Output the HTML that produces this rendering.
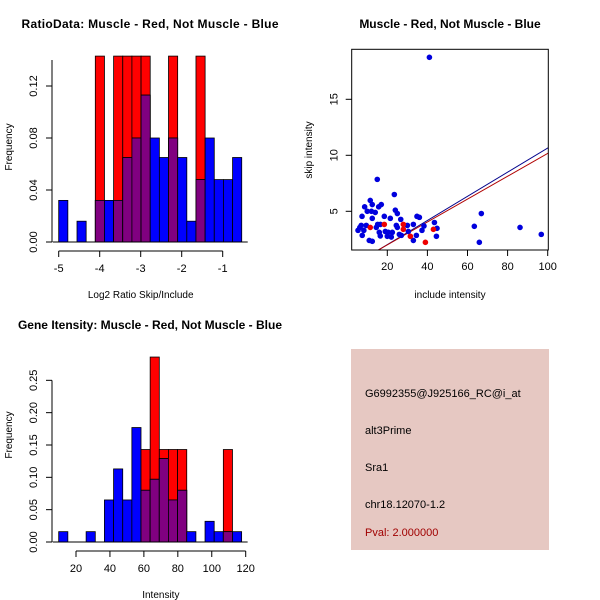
<!DOCTYPE html>
<html><head><meta charset="utf-8"><style>
body{margin:0;background:#fff}
svg{display:block;font-family:"Liberation Sans",sans-serif}
</style></head><body>
<svg id="s" width="600" height="600" viewBox="0 0 600 600">
<rect width="600" height="600" fill="#fff"/>
<text x="150" y="28" text-anchor="middle" font-size="12" font-weight="bold" textLength="257">RatioData: Muscle - Red, Not Muscle - Blue</text>
<text x="450" y="28" text-anchor="middle" font-size="12" font-weight="bold">Muscle - Red, Not Muscle - Blue</text>
<text x="150" y="329" text-anchor="middle" font-size="12" font-weight="bold">Gene Itensity: Muscle - Red, Not Muscle - Blue</text>
<g id="g1"></g>
<g id="g2"></g>
<g id="g3"></g>
<g>
<rect x="351" y="349" width="198" height="201" fill="#e6c8c2"/>
<g font-size="11">
<text x="365" y="397">G6992355@J925166_RC@i_at</text>
<text x="365" y="434">alt3Prime</text>
<text x="365" y="471">Sra1</text>
<text x="365" y="508">chr18.12070-1.2</text>
<text x="365" y="536" fill="#a00000">Pval: 2.000000</text>
</g></g>
</svg>
<script>
// Ratio histogram data
const ratioBinStart = -5, ratioBinWidth = 0.2232;
const ratioBlue = [0.032,0,0.016,0,0.032,0.032,0.032,0.065,0.08,0.113,0.08,0.065,0.08,0.065,0.016,0.048,0.08,0.048,0.048,0.065];
const ratioRed  = [0,0,0,0,0.143,0,0.143,0.143,0.143,0.143,0,0,0.143,0,0,0.143,0,0,0,0];
const ratioXTicks = [-5,-4,-3,-2,-1];
const ratioYTicks = ["0.00","0.04","0.08","0.12"];
// Intensity histogram data
const intBinStart = 9.8, intBinWidth = 5.39;
const intBlue = [0.016,0,0,0.016,0,0.065,0.113,0.065,0.177,0.08,0.097,0.129,0.065,0.08,0.016,0,0.032,0.016,0.016,0.016];
const intRed  = [0,0,0,0,0,0,0,0,0,0.143,0.286,0.143,0.143,0.143,0,0,0,0,0.143,0];
const intXTicks = [20,40,60,80,100,120];
const intYTicks = ["0.00","0.05","0.10","0.15","0.20","0.25"];
// Scatter data
const blueX = [41,15,23.5,11.5,12.5,17,8.7,15.7,10,12.1,14,24,25,7.4,18.5,12.5,21.5,26.7,34.8,36,43.5,66.9,15.2,16.5,7,9.5,24.5,30,33,38.3,6.3,14.5,25,44.8,63.4,86.2,5.4,8.3,37.3,16,19,20.5,22.5,30.5,7.5,16.5,20,22,26,27,34.5,44.5,96.8,11,12.5,33,65.9];
const blueY = [18.75,7.85,6.5,5.97,5.6,5.6,5.4,5.4,5,5,4.9,5.1,4.8,4.55,4.55,4.37,4.37,4.28,4.55,4.46,4,4.8,3.83,3.83,3.74,3.74,3.74,3.74,3.83,3.69,3.56,3.56,3.56,3.48,3.66,3.56,3.3,3.3,3.3,3.12,3.2,3.12,3.12,3.2,2.85,2.8,2.77,2.7,2.94,2.85,2.85,2.77,2.94,2.4,2.32,2.4,2.23];
const redX = [11.5,18.5,28,28,31.5,39,43];
const redY = [3.56,3.83,3.83,3.39,2.77,2.23,3.39];
const blueFit = [-0.131,0.1078]; // intercept, slope
const redFit = [-0.04,0.1021];
const scXTicks = [20,40,60,80,100];
const scYTicks = [5,10,15];

const NS="http://www.w3.org/2000/svg";
function mk(p,tag,a){const e=document.createElementNS(NS,tag);for(const k in a)e.setAttribute(k,a[k]);p.appendChild(e);return e;}

function hist(g,o){
  const X=v=>o.x0+(v-o.xv0)*o.xs, Y=v=>o.y0-v*o.ys;
  for(let i=0;i<o.blue.length;i++){
    const a=o.start+i*o.w,b=a+o.w,bv=o.blue[i],rv=o.red[i];
    if(rv>0){const r=mk(g,'rect',{x:X(a),y:Y(rv),width:X(b)-X(a),height:Y(0)-Y(rv),fill:'#ff0000',stroke:'#000','stroke-width':0.8});
      
      }
    if(bv>0){const r=mk(g,'rect',{x:X(a),y:Y(bv),width:X(b)-X(a),height:Y(0)-Y(bv),fill:'#0000ff',stroke:'#000','stroke-width':0.8});
      
      }
    const m=Math.min(bv,rv);
    if(m>0){const r=mk(g,'rect',{x:X(a),y:Y(m),width:X(b)-X(a),height:Y(0)-Y(m),fill:'#800080',stroke:'#000','stroke-width':0.8});
      
      }
  }
  mk(g,'line',{x1:X(o.start)-6,x2:X(o.start+o.blue.length*o.w)+6,y1:Y(0),y2:Y(0),stroke:'#000'});
  const xa=o.y0+9;
  mk(g,'line',{x1:X(o.xt[0]),x2:X(o.xt[o.xt.length-1]),y1:xa,y2:xa,stroke:'#000'});
  o.xt.forEach(t=>{mk(g,'line',{x1:X(t),x2:X(t),y1:xa,y2:xa+6,stroke:'#000'});
    const tx=mk(g,'text',{x:X(t),y:xa+21,'text-anchor':'middle','font-size':11});tx.textContent=t;
    
    });
  const ya=52;
  mk(g,'line',{x1:ya,x2:ya,y1:Y(0),y2:Y(o.ytop),stroke:'#000'});
  const step=parseFloat(o.yt[1]);
  for(let v=0;v<=o.ytop+1e-9;v+=step){mk(g,'line',{x1:ya-6,x2:ya,y1:Y(v),y2:Y(v),stroke:'#000'});}
  o.yt.forEach(t=>{const v=parseFloat(t);const tx=mk(g,'text',{x:0,y:0,'text-anchor':'middle','font-size':11,transform:`translate(${ya-15},${Y(v)}) rotate(-90)`});tx.textContent=t;
    
    });
  const yl=mk(g,'text',{'text-anchor':'middle','font-size':10,transform:`translate(12,${o.y0-o.ylabOff}) rotate(-90)`});yl.textContent='Frequency';
  
  
  const xl=mk(g,'text',{x:(X(o.xt[0])+X(o.xt[o.xt.length-1]))/2,y:o.y0+56,'text-anchor':'middle','font-size':10});xl.textContent=o.xlab;
  
  
}
hist(document.getElementById('g1'),{x0:58.7,xv0:-5,xs:41,y0:242,ys:1300,start:ratioBinStart,w:ratioBinWidth,blue:ratioBlue,red:ratioRed,xt:ratioXTicks,yt:ratioYTicks,ytop:0.14,xlab:'Log2 Ratio Skip/Include',ylabOff:95});
hist(document.getElementById('g2'),{x0:76,xv0:20,xs:1.697,y0:542,ys:646.7,start:intBinStart,w:intBinWidth,blue:intBlue,red:intRed,xt:intXTicks,yt:intYTicks,ytop:0.25,xlab:'Intensity',ylabOff:107});

(function(){
  const g=document.getElementById('g3');
  const L=351.7,R=548.3,T=49.3,B=250;
  const X=v=>347.2+v*2.005, Y=v=>267.3-v*11.2;
  mk(g,'defs',{}).innerHTML='<clipPath id="cp"><rect x="'+L+'" y="'+T+'" width="'+(R-L)+'" height="'+(B-T)+'"/></clipPath>';
  const cg=mk(g,'g',{'clip-path':'url(#cp)'});
  [[blueFit,'#00008b'],[redFit,'#b00000']].forEach(([f,c])=>{
    const l=mk(cg,'line',{x1:X(0),y1:Y(f[0]),x2:X(110),y2:Y(f[0]+f[1]*110),stroke:c,'stroke-width':1});
    
    });
  blueX.forEach((x,i)=>{const c=mk(g,'circle',{cx:X(x),cy:Y(blueY[i]),r:2.8,fill:'#0000dd'});
    
    });
  redX.forEach((x,i)=>{const c=mk(g,'circle',{cx:X(x),cy:Y(redY[i]),r:2.8,fill:'#ee0000'});
    
    });
  mk(g,'rect',{x:L,y:T,width:R-L,height:B-T,fill:'none',stroke:'#000'});
  scXTicks.forEach(t=>{mk(g,'line',{x1:X(t),x2:X(t),y1:B,y2:B+6,stroke:'#000'});
    const tx=mk(g,'text',{x:X(t),y:B+20,'text-anchor':'middle','font-size':11});tx.textContent=t;
    
    });
  scYTicks.forEach(t=>{mk(g,'line',{x1:L-6,x2:L,y1:Y(t),y2:Y(t),stroke:'#000'});
    const tx=mk(g,'text',{'text-anchor':'middle','font-size':11,transform:`translate(${L-14},${Y(t)}) rotate(-90)`});tx.textContent=t;
    
    });
  const xl=mk(g,'text',{x:450,y:298,'text-anchor':'middle','font-size':10});xl.textContent='include intensity';
  
  
  const yl=mk(g,'text',{'text-anchor':'middle','font-size':10,transform:'translate(312,150) rotate(-90)'});yl.textContent='skip intensity';
  
  
})();
</script>
</body></html>
